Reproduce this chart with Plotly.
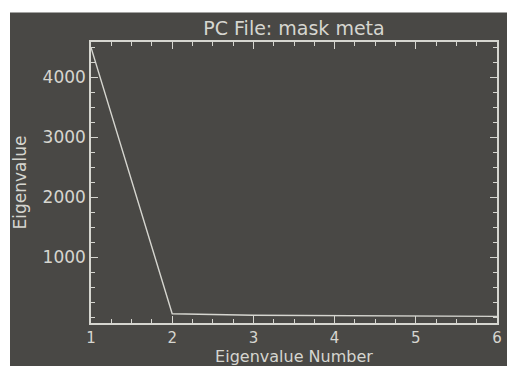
import plotly.graph_objects as go

# Data
eig_number = [1, 2, 3, 4, 5, 6]
eig_value = [4500, 55, 30, 20, 15, 10]
x_ticks = [1, 2, 3, 4, 5, 6]
y_ticks = [1000, 2000, 3000, 4000]

BG = "#494845"
FG = "#d6d6d0"
FONT = "DejaVu Sans"

fig = go.Figure()
fig.add_trace(go.Scatter(x=eig_number, y=eig_value, mode="lines",
                         line=dict(color=FG, width=1.4), showlegend=False,
                         hoverinfo="skip"))

axis_common = dict(showgrid=False, zeroline=False, showline=True, linecolor=FG,
                   linewidth=1.5, mirror="ticks", ticks="inside", tickcolor=FG,
                   tickwidth=1.3)

fig.update_xaxes(range=[1, 6], tickvals=x_ticks, ticklen=7,
                 tickfont=dict(family=FONT, size=15, color=FG),
                 minor=dict(dtick=0.25, ticklen=4, tickcolor=FG, ticks="inside"),
                 title=dict(text="Eigenvalue Number", standoff=3,
                            font=dict(family=FONT, size=16, color=FG)),
                 **axis_common)
fig.update_yaxes(range=[-100, 4590], tickvals=y_ticks, ticklen=7,
                 tickfont=dict(family=FONT, size=17, color=FG),
                 minor=dict(dtick=250, ticklen=4, tickcolor=FG, ticks="inside"),
                 title=dict(text="Eigenvalue", standoff=12,
                            font=dict(family=FONT, size=17, color=FG)),
                 **axis_common)

fig.add_shape(type="rect", xref="paper", yref="paper",
              x0=-0.1995, x1=1.05, y0=-0.2, y1=1.105,
              fillcolor=BG, line=dict(width=0), layer="below")

fig.update_layout(
    width=507, height=366,
    margin=dict(l=91, r=5, t=42, b=38),
    paper_bgcolor="white", plot_bgcolor=BG,
    title=dict(text="PC File: mask meta", x=0.5, xref="paper",
               y=1 - 28 / 366, yref="container", yanchor="middle",
               font=dict(family=FONT, size=19, color=FG)),
)

fig.write_html("out.html")
